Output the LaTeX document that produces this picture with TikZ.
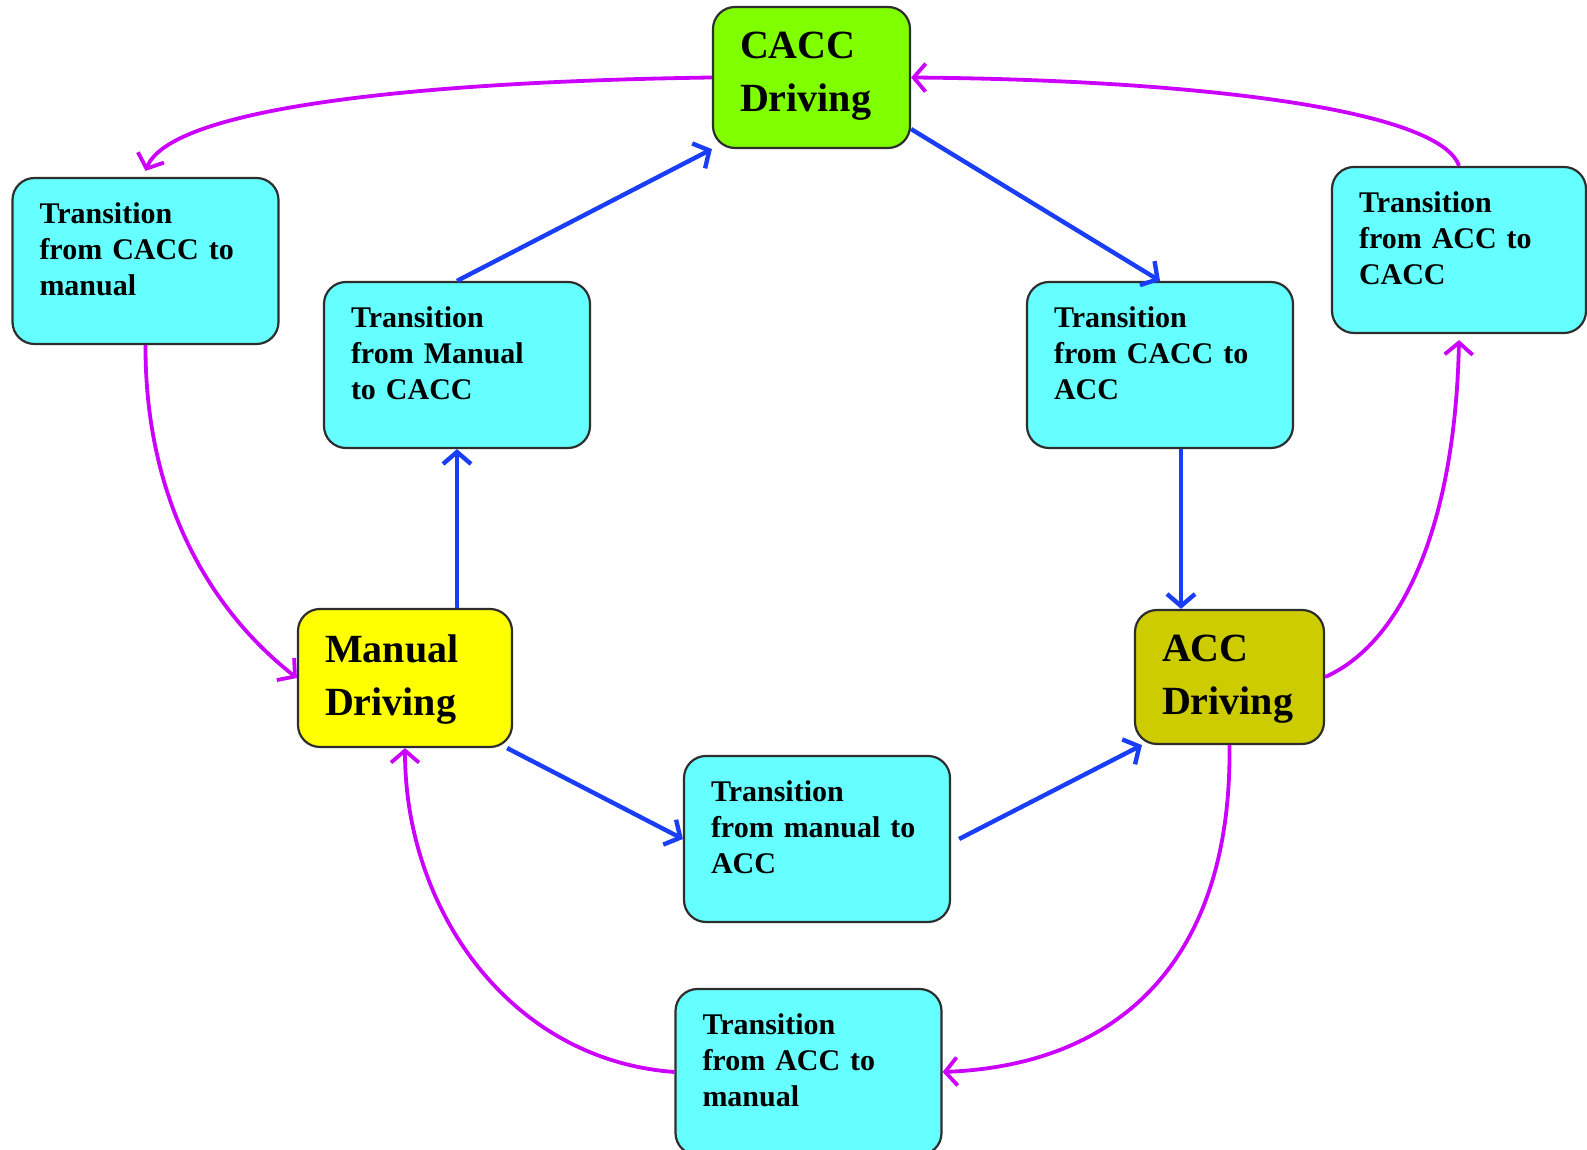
\documentclass[tikz,border=0pt]{standalone}
\usepackage{fontspec}
\setmainfont{Liberation Serif}
\usetikzlibrary{arrows.meta}

\definecolor{caccgreen}{HTML}{80FF00}
\definecolor{manyellow}{HTML}{FFFF00}
\definecolor{accolive}{HTML}{CCCC00}
\definecolor{transcyan}{HTML}{66FFFF}
\definecolor{edgegray}{HTML}{2E2E2E}
\definecolor{flowblue}{HTML}{1A3EF5}
\definecolor{backmag}{HTML}{CC00FF}

\begin{document}
\begin{tikzpicture}[x=1pt,y=1pt,
  box/.style={draw=edgegray, line width=2.2pt, rounded corners=22pt,
    align=left, inner xsep=27pt, inner ysep=0pt},
  trans/.style={box, fill=transcyan, minimum width=266pt, minimum height=166pt,
    text width=212pt, text height=21pt, text depth=95pt,
    font=\bfseries\fontsize{30}{36}\selectfont},
  mode/.style={box, font=\bfseries\fontsize{40}{53}\selectfont,
    text height=29pt, text depth=59pt},
  flow/.style={draw=flowblue, line width=4.4pt,
    -{Straight Barb[length=12pt,width=28pt]}},
  back/.style={draw=backmag, line width=3.8pt,
    -{Straight Barb[length=12pt,width=28pt]}}]

  % page frame
  \path[use as bounding box, fill=white] (0,0) rectangle (1587,1150);

  % driving modes
  \node[mode, fill=caccgreen, minimum width=197pt, minimum height=141pt,
        text width=143pt, text depth=66pt] (cacc) at (811.5,1072.5) {CACC\\Driving};
  \node[mode, fill=manyellow, minimum width=214pt, minimum height=138pt,
        text width=160pt] (man) at (405,472) {Manual\\Driving};
  \node[mode, fill=accolive, minimum width=189pt, minimum height=134pt,
        text width=135pt] (acc) at (1229.5,473) {ACC\\Driving};

  % transition states
  \node[trans] (tcm) at (145.5,889) {Transition\\from CACC to\\manual};
  \node[trans, minimum width=254pt, text width=200pt] (tac) at (1459,900)
        {Transition\\from ACC to\\CACC};
  \node[trans] (tmc) at (457,785) {Transition\\from Manual\\to CACC};
  \node[trans] (tca) at (1160,785) {Transition\\from CACC to\\ACC};
  \node[trans] (tma) at (817,311) {Transition\\from manual to\\ACC};
  \node[trans] (tam) at (808.5,78) {Transition\\from ACC to\\manual};

  % forward transitions
  \draw[flow] (tmc.south |- man.north) -- (tmc.south);
  \draw[flow] (tmc.north) -- (cacc.south west);
  \draw[flow] ([yshift=20pt]cacc.south east) -- (tca.north);
  \draw[flow] ([xshift=21pt]tca.south) -- ([xshift=21pt]tca.south |- acc.north);
  \draw[flow] ([xshift=-6pt]man.south east) -- (tma.west);
  \draw[flow] ([xshift=8pt]tma.east) -- ([xshift=8pt]acc.south west);

  % return transitions
  \draw[back] (cacc.west) .. controls (400,1068) and (170,1040) .. ([yshift=6pt]tcm.north);
  \draw[back] (tcm.south) .. controls (145,650) and (210,540) .. (man.west);
  \draw[back] (acc.east) .. controls (1400,506) and (1455,620) .. ([yshift=-6pt]tac.south);
  \draw[back] (tac.north) .. controls (1440,1040) and (1200,1070) .. (cacc.east);
  \draw[back] (acc.south) .. controls (1232,190) and (1120,85) .. (tam.east);
  \draw[back] (tam.west) .. controls (510,90) and (405,240) .. (man.south);
\end{tikzpicture}
\end{document}
